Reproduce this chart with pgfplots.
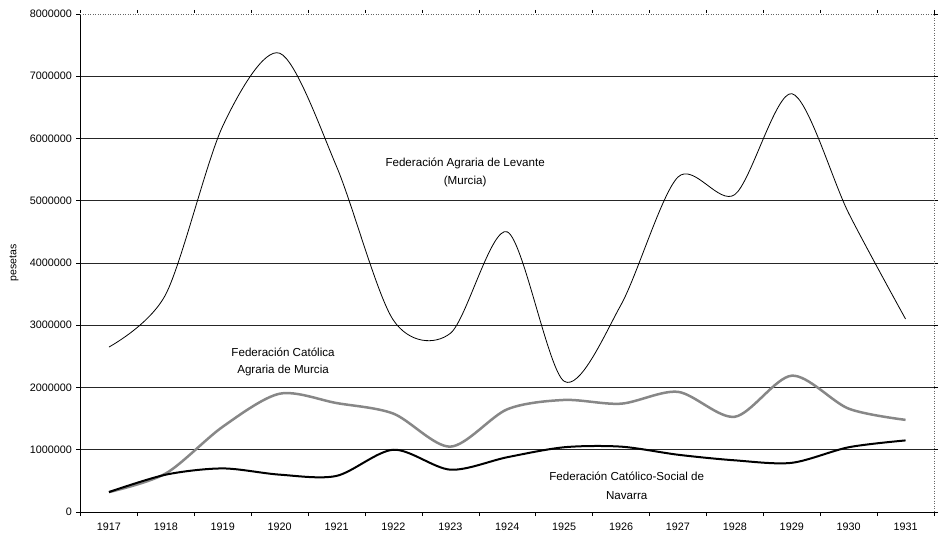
\documentclass[border=0pt]{standalone}
\usepackage{pgfplots}
\pgfplotsset{compat=1.18}
\usepackage{fontspec}
\setmainfont{Liberation Sans}
\definecolor{midgray}{RGB}{135,135,135}
\begin{document}
\begin{tikzpicture}
\path[use as bounding box] (-80.5pt,-23pt) rectangle (863.5pt,512pt);
\begin{axis}[
  scale only axis,
  width=853.5pt, height=498pt,
  xmin=-0.5, xmax=14.5,
  ymin=0, ymax=8000000,
  axis line style={draw=none},
  xtick={0,...,14},
  xticklabels={1917,1918,1919,1920,1921,1922,1923,1924,1925,1926,1927,1928,1929,1930,1931},
  minor xtick={-0.5,0.5,...,14.5},
  major x tick style={draw=none},
  minor x tick style={black, line width=0.6pt},
  minor tick length=4pt,
  tick align=outside,
  ytick={0,1000000,2000000,3000000,4000000,5000000,6000000,7000000,8000000},
  yticklabels={0,1000000,2000000,3000000,4000000,5000000,6000000,7000000,8000000},
  major y tick style={black, line width=0.6pt},
  major tick length=4pt,
  ymajorgrids,
  grid style={black!85, line width=0.7pt},
  ticklabel style={font=\fontsize{10.8}{12}\selectfont},
  xticklabel style={yshift=-3pt},
  yticklabel style={xshift=-1pt},
  clip=false,
]
% frame
\draw[white, line width=1.2pt] (rel axis cs:0,1) -- (rel axis cs:1,1);
\draw[black, line width=0.8pt] (rel axis cs:0,0) -- (rel axis cs:0,1);
\draw[black, line width=0.8pt] (rel axis cs:0,0) -- (rel axis cs:1,0);
\draw[black!60, line width=0.5pt, dotted] (rel axis cs:0,1) -- (rel axis cs:1,1) -- (rel axis cs:1,0);

% Federacion Catolica Agraria de Murcia (gray)
\addplot[midgray, line width=2.5pt, smooth] coordinates {
(0,320000) (1,620000) (2,1370000) (3,1900000) (4,1750000) (5,1580000) (6,1050000)
(7,1650000) (8,1800000) (9,1740000) (10,1930000) (11,1530000) (12,2190000) (13,1660000) (14,1480000)};
% Navarra (thick black)
\addplot[black, line width=2.0pt, smooth] coordinates {
(0,320000) (1,600000) (2,700000) (3,600000) (4,580000) (5,1000000) (6,680000)
(7,880000) (8,1040000) (9,1050000) (10,920000) (11,830000) (12,790000) (13,1040000) (14,1150000)};
% Levante (thin black)
\addplot[black, line width=0.8pt, smooth] coordinates {
(0,2650000) (1,3500000) (2,6200000) (3,7370000) (4,5550000) (5,3080000) (6,2870000)
(7,4500000) (8,2100000) (9,3330000) (10,5380000) (11,5100000) (12,6720000) (13,4800000) (14,3100000)};

\node[align=center, font=\fontsize{11.6}{18}\selectfont] at (axis cs:6.26,5460000) {Federación Agraria de Levante\\(Murcia)};
\node[align=center, font=\fontsize{11.6}{17}\selectfont] at (axis cs:3.06,2410000) {Federación Católica\\Agraria de Murcia};
\node[align=center, font=\fontsize{11.6}{19}\selectfont] at (axis cs:9.1,420000) {Federación Católico-Social de\\Navarra};
\node[rotate=90, font=\fontsize{10.5}{11}\selectfont] at ([xshift=-66.5pt]rel axis cs:0,0.5) {pesetas};
\end{axis}
\end{tikzpicture}
\end{document}
